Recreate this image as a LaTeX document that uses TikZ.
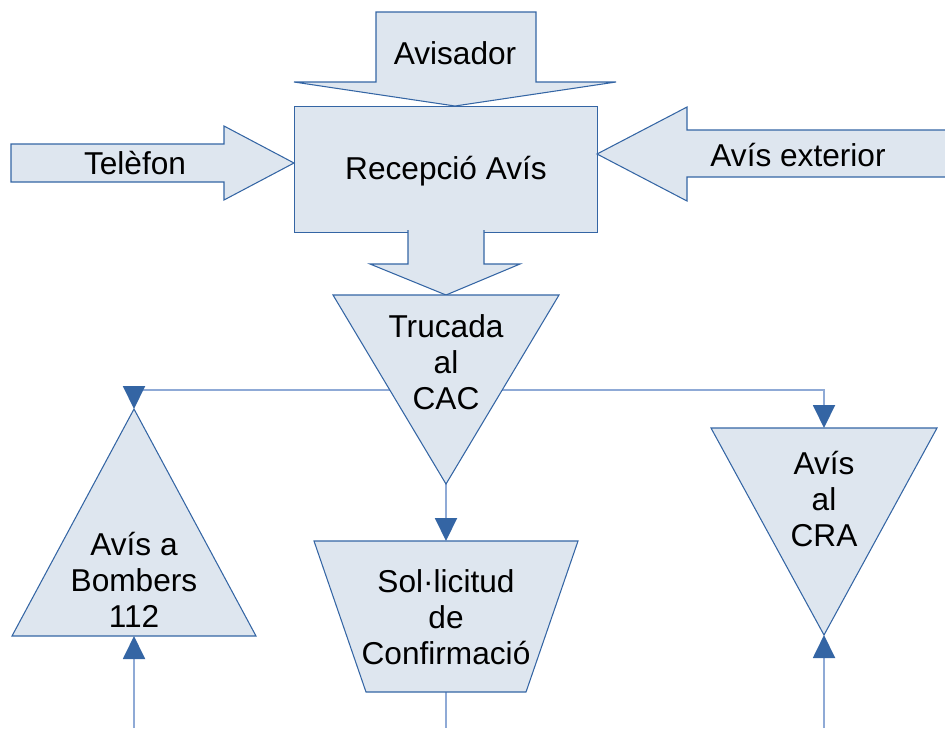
\documentclass[tikz,border=0pt]{standalone}
\usepackage{fontspec}
\setmainfont{Liberation Sans}
\usetikzlibrary{arrows.meta,positioning}
\definecolor{cajablau}{HTML}{DEE6EF}
\definecolor{vorablau}{HTML}{3465A4}
\definecolor{liniablau}{HTML}{8FAAD6}
\tikzstyle{bloc}  =[draw=vorablau, fill=cajablau, line width=0.6pt]
\tikzstyle{edge}  =[draw=liniablau, line width=1.1pt,
                    -{Triangle[width=0.44cm, length=0.46cm, color=vorablau]}]
\tikzstyle{txt}   =[align=center, inner sep=0pt,
                    font=\fontsize{18}{20.5}\selectfont]

\begin{document}
\begin{tikzpicture}[x=0.02cm, y=-0.02cm]
\useasboundingbox (0,0) rectangle (945,728);
% punts de connexio
\coordinate (trucada-mig) at (446,390); \coordinate (trucada-tip) at (446,484);
\coordinate (bombers-apex) at (134,409); \coordinate (bombers-base) at (134,636);
\coordinate (cra-top) at (824,428); \coordinate (cra-tip) at (824,635);
\coordinate (sollicitud-top) at (446,541); \coordinate (sollicitud-base) at (446,692);
\coordinate (baix-esq) at (134,728); \coordinate (baix-mig) at (446,728);
\coordinate (baix-dre) at (824,728);
% connectors
\draw [edge] (trucada-mig) -| (bombers-apex);
\draw [edge] (trucada-mig) -| (cra-top);
\draw [edge] (trucada-tip) -- (sollicitud-top);
\draw [edge] (baix-esq) -- (bombers-base);
\draw [edge] (baix-dre) -- (cra-tip);
\draw [edge, -] (sollicitud-base) -- (baix-mig);
% blocs
\draw [bloc] (376,12) -- (536,12) -- (536,82) -- (616,82) -- (455,106)
            -- (294,82) -- (376,82) -- cycle;
\draw [bloc] (294.5,106.5) rectangle (597.5,232.5);
\draw [bloc] (11,144) -- (224,144) -- (224,126) -- (294,163) -- (224,200)
            -- (224,182) -- (11,182) -- cycle;
\draw [bloc] (945,130) -- (687,130) -- (687,107) -- (597,154) -- (687,201)
            -- (687,177) -- (945,177);
\draw [bloc] (408,230) -- (408,264) -- (370,264) -- (446,295) -- (520,264)
            -- (484,264) -- (484,230);
\draw [bloc] (333,295) -- (559,295) -- (trucada-tip) -- cycle;
\draw [bloc] (711,428) -- (937,428) -- (cra-tip) -- cycle;
\draw [bloc] (bombers-apex) -- (256,636) -- (12,636) -- cycle;
\draw [bloc] (314,541) -- (578,541) -- (526,692) -- (366,692) -- cycle;
% textos
\node [txt] (avisador) at (455,53) {Avisador};
\node [txt] (recepcio) at (446,171) {Recepció Avís};
\node [txt] (telefon) at (135,163) {Telèfon};
\node [txt] (exterior) at (798,155) {Avís exterior};
\node [txt] (trucada) at (446,362) {Trucada\\al\\CAC};
\node [txt] (cra) at (824,499) {Avís\\al\\CRA};
\node [txt] (bombers) at (134,580) {Avís a\\Bombers\\112};
\node [txt] (sollicitud) at (446,617) {Sol·licitud\\de\\Confirmació};
\end{tikzpicture}
\end{document}
